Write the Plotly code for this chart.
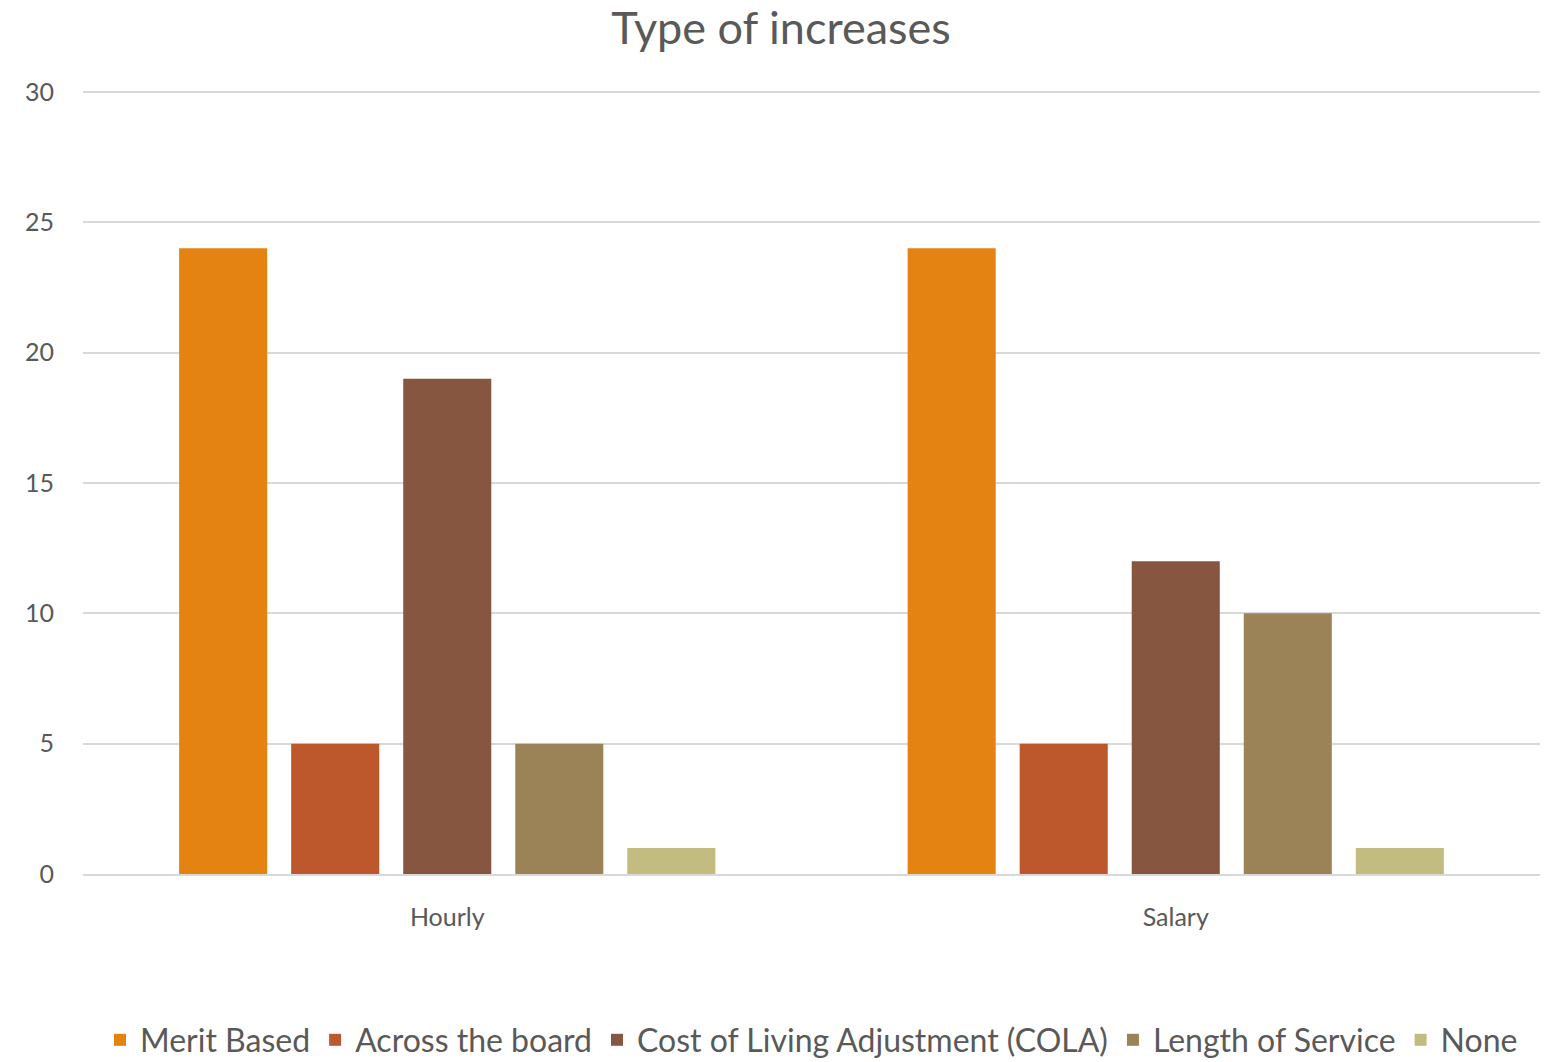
import plotly.graph_objects as go

# Categories and series values
categories = ["Hourly", "Salary"]
series_names = [
    "Merit Based",
    "Across the board",
    "Cost of Living Adjustment (COLA)",
    "Length of Service",
    "None",
]
merit_based = [24, 24]
across_the_board = [5, 5]
cola = [19, 12]
length_of_service = [5, 10]
none_values = [1, 1]
y_ticks = [0, 5, 10, 15, 20, 25, 30]

series_values = [merit_based, across_the_board, cola, length_of_service, none_values]
colors = ["#E48312", "#BD582C", "#865640", "#9B8357", "#C2BC80"]

FONT = "Lato, 'Open Sans', sans-serif"
TEXT_COLOR = "#595959"

fig = go.Figure()
for name, vals, col in zip(series_names, series_values, colors):
    fig.add_trace(go.Bar(
        x=categories,
        y=vals,
        name=name,
        marker=dict(color=col, line=dict(width=0)),
    ))

fig.update_layout(
    width=1562,
    height=1062,
    barmode="group",
    bargap=0.231,
    bargroupgap=0.214,
    plot_bgcolor="white",
    paper_bgcolor="white",
    margin=dict(l=83, r=22, t=88, b=188, autoexpand=False),
    title=dict(
        text="Type of increases",
        x=0.5,
        xanchor="center",
        y=1 - 28 / 1062,
        yanchor="middle",
        font=dict(family=FONT, size=45, color=TEXT_COLOR),
    ),
    font=dict(family=FONT, color=TEXT_COLOR),
    legend=dict(
        orientation="h",
        x=0.5,
        xanchor="center",
        yref="container",
        y=1 - 1040 / 1062,
        yanchor="middle",
        font=dict(family=FONT, size=32, color=TEXT_COLOR),
        itemwidth=30,
        tracegroupgap=0,
    ),
    xaxis=dict(
        showgrid=False,
        showline=True,
        linecolor="#D9D9D9",
        linewidth=2,
        ticks="",
        tickfont=dict(family=FONT, size=25, color=TEXT_COLOR),
        ticklabelstandoff=20,
    ),
    yaxis=dict(
        range=[0, 30.15],
        tickvals=y_ticks,
        showgrid=True,
        gridcolor="#D9D9D9",
        gridwidth=2,
        zeroline=False,
        showline=False,
        ticks="",
        tickfont=dict(family=FONT, size=25, color=TEXT_COLOR),
        ticklabelstandoff=28,
    ),
)

fig.write_html("out.html")
